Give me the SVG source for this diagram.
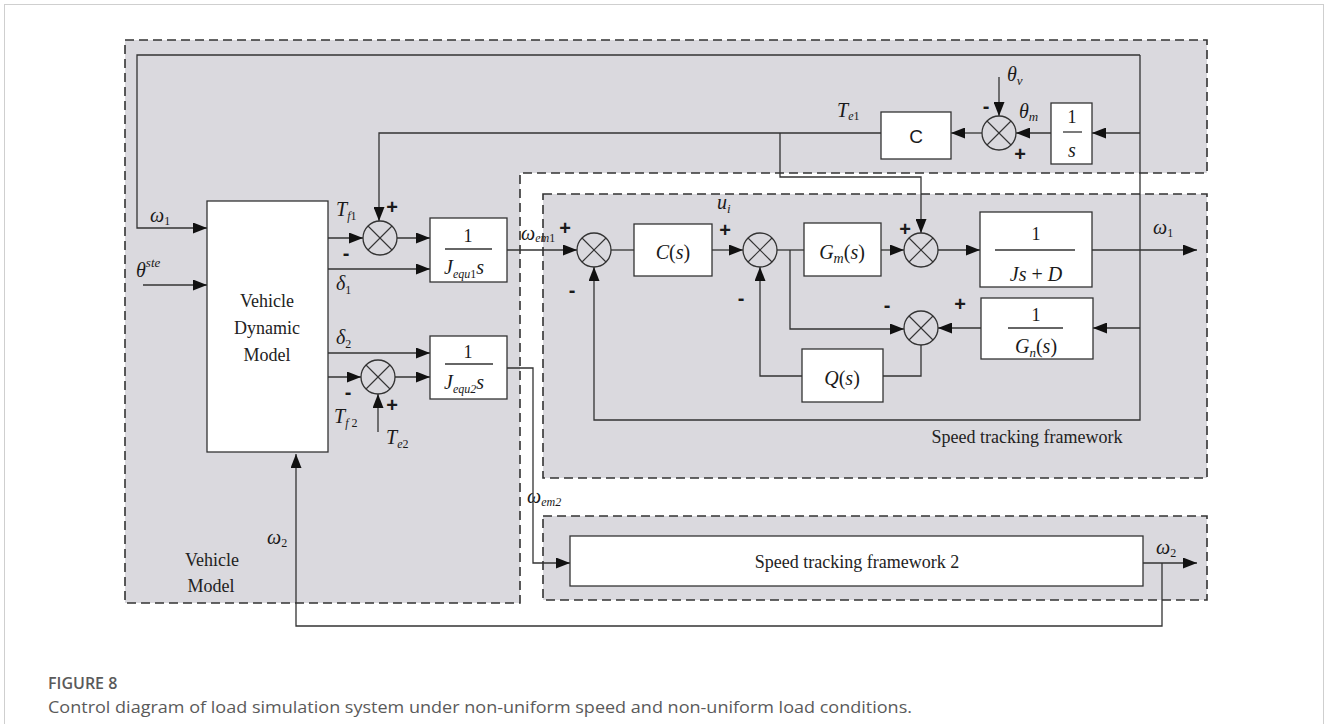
<svg xmlns="http://www.w3.org/2000/svg" width="1328" height="724" viewBox="0 0 1328 724">
<style>
.ln{fill:none;stroke:#333;stroke-width:1.3}
.ar{fill:none;stroke:#333;stroke-width:1.3;marker-end:url(#ah)}
.blk{fill:#fff;stroke:#333;stroke-width:1.3}
.dash{fill:#dad9de;stroke:#333;stroke-width:1.6;stroke-dasharray:9 5}
.m{font-family:"Liberation Serif",serif;font-style:italic;font-size:20px;fill:#1a1a1a}
.r{font-family:"Liberation Serif",serif;font-size:18px;fill:#1a1a1a}
.sb{font-size:12px}
.sg{font-family:"Liberation Sans",sans-serif;font-weight:bold;font-size:20px;fill:#1a1a1a;text-anchor:middle;dominant-baseline:central}
.lbl{font-family:"Liberation Serif",serif;font-size:18px;fill:#222;text-anchor:middle}
.fr{stroke:#333;stroke-width:1.3}
.cap{font-family:"Open Sans",sans-serif;fill:#5a5a5a}
</style>
<defs>
<marker id="ah" markerUnits="userSpaceOnUse" markerWidth="14" markerHeight="11" refX="14" refY="5.5" orient="auto">
<path d="M0,0 L14,5.5 L0,11 z" fill="#111"/>
</marker>
<g id="sj"><circle r="17" fill="none" stroke="#333" stroke-width="1.3"/><line x1="-12" y1="-12" x2="12" y2="12" stroke="#333" stroke-width="1.1"/><line x1="-12" y1="12" x2="12" y2="-12" stroke="#333" stroke-width="1.1"/></g>
</defs>
<rect x="0" y="0" width="1328" height="724" fill="#fff"/>
<rect x="4.5" y="4.5" width="1319" height="740" fill="none" stroke="#cfcfcf" stroke-width="1"/>

<g id="regions">
<path class="dash" d="M125,40 H1207 V173 H520 V603 H125 Z"/>
<rect class="dash" x="543" y="194" width="664" height="284"/>
<rect class="dash" x="543" y="516" width="664" height="84"/>
<text class="lbl" x="212" y="566" font-size="20">Vehicle</text>
<text class="lbl" x="211" y="592" font-size="20">Model</text>
<text class="lbl" x="1027" y="443" font-size="18">Speed tracking framework</text>
</g>

<g id="connectors">
<path class="ar" d="M1140,55 H137 V228 H207"/>
<path class="ar" d="M1140,55 V420 H594 V267"/>
<path class="ar" d="M1140,133 H1092"/>
<path class="ar" d="M1140,328 H1093"/>
<path class="ar" d="M1092,250 H1197"/>
<path class="ar" d="M143,285 H207"/>
<path class="ar" d="M328,238 H363"/>
<path class="ar" d="M328,269 H430"/>
<path class="ar" d="M328,353 H430"/>
<path class="ar" d="M328,377 H361"/>
<path class="ar" d="M378,432 V394"/>
<path class="ar" d="M397,238 H430"/>
<path class="ar" d="M395,377 H430"/>
<path class="ar" d="M507,250 H577"/>
<path class="ar" d="M507,368 H533 V563 H570"/>
<path class="ln" d="M611,250 H634"/>
<path class="ar" d="M712,250 H743"/>
<path class="ln" d="M777,250 H804"/>
<path class="ar" d="M790,250 V329 H904"/>
<path class="ar" d="M881,250 H904"/>
<path class="ar" d="M938,250 H980"/>
<path class="ar" d="M981,328 H938"/>
<path class="ln" d="M921,345 V376 H883"/>
<path class="ar" d="M802,376 H760 V267"/>
<path class="ar" d="M1051,133 H1016"/>
<path class="ar" d="M999,77 V116"/>
<path class="ar" d="M982,133 H951"/>
<path class="ar" d="M881,133 H379 V221"/>
<path class="ar" d="M780,133 V177 H921 V233"/>
<path class="ar" d="M1143,563 H1197"/>
<path class="ar" d="M1162,563 V626 H296 V454"/>
</g>

<g id="vdm">
<rect class="blk" x="207" y="201" width="121" height="251"/>
<text class="lbl" x="267" y="307" font-size="20">Vehicle</text>
<text class="lbl" x="267" y="334" font-size="20">Dynamic</text>
<text class="lbl" x="267" y="361" font-size="20">Model</text>
</g>

<g id="sum1"><use href="#sj" x="380" y="238"/></g>
<g id="sum2"><use href="#sj" x="378" y="377"/></g>
<g id="sumA"><use href="#sj" x="594" y="250"/></g>
<g id="sumB"><use href="#sj" x="760" y="250"/></g>
<g id="sumC"><use href="#sj" x="921" y="250"/></g>
<g id="sumD"><use href="#sj" x="921" y="328"/></g>
<g id="sumE"><use href="#sj" x="999" y="133"/></g>

<g id="jequ1">
<rect class="blk" x="430" y="218" width="77" height="64"/>
<text class="r" x="468" y="242" font-size="21" text-anchor="middle">1</text>
<line class="fr" x1="445" y1="249" x2="492" y2="249"/>
<text class="m" x="444" y="274">J<tspan class="sb" dy="4">equ</tspan><tspan class="sb" font-style="normal">1</tspan><tspan dy="-4" font-size="20">s</tspan></text>
</g>
<g id="jequ2">
<rect class="blk" x="430" y="336" width="77" height="63"/>
<text class="r" x="468" y="358" font-size="21" text-anchor="middle">1</text>
<line class="fr" x1="445" y1="364" x2="493" y2="364"/>
<text class="m" x="444" y="389">J<tspan class="sb" dy="4">equ2</tspan><tspan dy="-4" font-size="20">s</tspan></text>
</g>

<g id="cs">
<rect class="blk" x="634" y="224" width="78" height="52"/>
<text class="m" x="673" y="259" font-size="24" text-anchor="middle">C<tspan font-style="normal">(</tspan>s<tspan font-style="normal">)</tspan></text>
</g>
<g id="gm">
<rect class="blk" x="804" y="223" width="77" height="53"/>
<text class="m" x="842" y="259" font-size="24" text-anchor="middle">G<tspan font-size="14" dy="4">m</tspan><tspan font-style="normal" dy="-4">(</tspan>s<tspan font-style="normal">)</tspan></text>
</g>
<g id="qs">
<rect class="blk" x="802" y="349" width="81" height="53"/>
<text class="m" x="842" y="385" font-size="26" text-anchor="middle">Q<tspan font-style="normal">(</tspan>s<tspan font-style="normal">)</tspan></text>
</g>
<g id="plant">
<rect class="blk" x="980" y="212" width="112" height="75"/>
<text class="r" x="1036" y="240" font-size="27" text-anchor="middle">1</text>
<line class="fr" x1="995" y1="250" x2="1075" y2="250"/>
<text class="m" x="1036" y="281" font-size="27" text-anchor="middle">Js <tspan font-style="normal">+</tspan> D</text>
</g>
<g id="gninv">
<rect class="blk" x="981" y="298" width="112" height="61"/>
<text class="r" x="1036" y="321" font-size="22" text-anchor="middle">1</text>
<line class="fr" x1="1008" y1="328" x2="1063" y2="328"/>
<text class="m" x="1036" y="353" font-size="22" text-anchor="middle">G<tspan font-size="13" dy="4">n</tspan><tspan font-style="normal" dy="-4">(</tspan>s<tspan font-style="normal">)</tspan></text>
</g>
<g id="integ">
<rect class="blk" x="1051" y="103" width="41" height="61"/>
<text class="r" x="1072" y="123" font-size="21" text-anchor="middle">1</text>
<line class="fr" x1="1063" y1="132" x2="1082" y2="132"/>
<text class="m" x="1072" y="157" font-size="21" text-anchor="middle">s</text>
</g>
<g id="cblk">
<rect class="blk" x="881" y="112" width="70" height="47"/>
<text x="916" y="143" font-family="Liberation Sans,sans-serif" font-size="19" fill="#1a1a1a" text-anchor="middle">C</text>
</g>
<g id="stf2">
<rect class="blk" x="570" y="536" width="573" height="50"/>
<text class="lbl" x="857" y="568" font-size="18">Speed tracking framework 2</text>
</g>

<g id="labels">
<text class="m" x="150" y="222">ω<tspan class="sb" font-style="normal" dy="3">1</tspan></text>
<text class="m" x="136" y="277" font-size="24">θ<tspan font-size="13" dy="-10">ste</tspan></text>
<text class="m" x="336" y="216">T<tspan class="sb" dy="4">f</tspan><tspan class="sb" font-style="normal">1</tspan></text>
<text class="m" x="336" y="290">δ<tspan class="sb" font-style="normal" dy="4">1</tspan></text>
<text class="m" x="336" y="344">δ<tspan class="sb" font-style="normal" dy="4">2</tspan></text>
<text class="m" x="334" y="423">T<tspan class="sb" dy="4">f</tspan><tspan class="sb" font-style="normal"> 2</tspan></text>
<text class="m" x="386" y="444">T<tspan class="sb" dy="4">e</tspan><tspan class="sb" font-style="normal">2</tspan></text>
<text class="m" x="521" y="240" font-size="19">ω<tspan class="sb" dy="2">em</tspan><tspan class="sb" font-style="normal">1</tspan></text>
<text class="m" x="527" y="503" font-size="19">ω<tspan class="sb" dy="3">em</tspan><tspan class="sb">2</tspan></text>
<text class="m" x="717" y="209" font-size="25">u<tspan font-size="13" dy="4">i</tspan></text>
<text class="m" x="837" y="117">T<tspan class="sb" dy="3">e</tspan><tspan class="sb" font-style="normal">1</tspan></text>
<text class="m" x="1007" y="81" font-size="21">θ<tspan font-size="13" dy="4">v</tspan></text>
<text class="m" x="1019" y="118" font-size="21">θ<tspan font-size="13" dy="3">m</tspan></text>
<text class="m" x="1153" y="234">ω<tspan class="sb" font-style="normal" dy="3">1</tspan></text>
<text class="m" x="1156" y="554">ω<tspan class="sb" font-style="normal" dy="3">2</tspan></text>
<text class="m" x="267" y="544">ω<tspan class="sb" font-style="normal" dy="3">2</tspan></text>
</g>

<g id="signs">
<text class="sg" x="392" y="207">+</text>
<text class="sg" x="346" y="253">-</text>
<text class="sg" x="348" y="392">-</text>
<text class="sg" x="392" y="405">+</text>
<text class="sg" x="565" y="228">+</text>
<text class="sg" x="572" y="290">-</text>
<text class="sg" x="725" y="230">+</text>
<text class="sg" x="741" y="298">-</text>
<text class="sg" x="905" y="229">+</text>
<text class="sg" x="887" y="305">-</text>
<text class="sg" x="960" y="304">+</text>
<text class="sg" x="986" y="106">-</text>
<text class="sg" x="1020" y="154">+</text>
</g>

<g id="caption">
<text class="cap" x="48" y="689" font-size="16" font-weight="600">FIGURE 8</text>
<text class="cap" x="48" y="713" font-size="16.5" textLength="864" lengthAdjust="spacingAndGlyphs">Control diagram of load simulation system under non-uniform speed and non-uniform load conditions.</text>
</g>
</svg>
